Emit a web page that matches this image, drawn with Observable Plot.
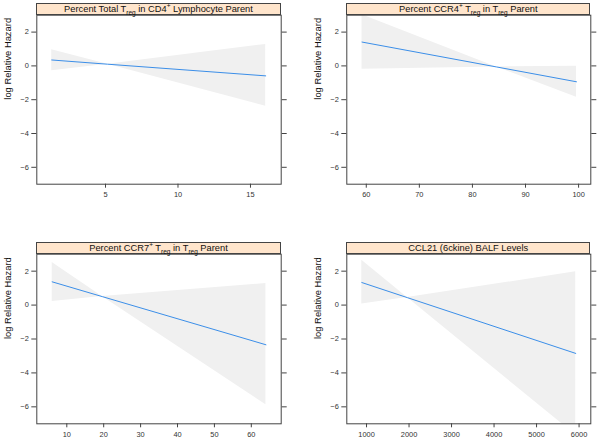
<!DOCTYPE html>
<html><head><meta charset="utf-8">
<script src="https://cdn.jsdelivr.net/npm/d3@7"></script>
<script src="https://cdn.jsdelivr.net/npm/@observablehq/plot@0.6"></script>
<style>
body{margin:0;background:#fff;}
#root{position:relative;width:598px;height:441px;overflow:hidden;font-family:"Liberation Sans",Arial,Helvetica,sans-serif;}
.panel{position:absolute;}
.strip{position:absolute;box-sizing:border-box;background:#ffe5cc;border:1px solid #444;font-size:9.3px;line-height:10px;text-align:center;color:#111;white-space:nowrap;}
.strip sub,.strip sup{font-size:0.7em;line-height:0;}
</style></head><body><div id="root"></div>
<script>
// ---- data ----
const yLabel = "log Relative Hazard";
const yTicks = [-6, -4, -2, 0, 2];

const title1 = 'Percent Total T<sub>reg</sub> in CD4<sup>+</sup> Lymphocyte Parent';
const x1 = [1.29, 5.15, 16.05];
const fit1 = [0.35, 0.10, -0.59];
const lo1 = [-0.28, 0.10, -2.39];
const hi1 = [0.96, 0.10, 1.27];
const xTicks1 = [5, 10, 15];

const title2 = 'Percent CCR4<sup>+</sup> T<sub>reg</sub> in T<sub>reg</sub> Parent';
const x2 = [59.2, 84.5, 99.6];
const fit2 = [1.41, -0.06, -0.94];
const lo2 = [-0.20, -0.06, -1.86];
const hi2 = [3.02, -0.06, -0.02];
const xTicks2 = [60, 70, 80, 90, 100];

const title3 = 'Percent CCR7<sup>+</sup> T<sub>reg</sub> in T<sub>reg</sub> Parent';
const x3 = [6.04, 19.6, 63.96];
const fit3 = [1.37, 0.50, -2.34];
const lo3 = [0.21, 0.50, -5.88];
const hi3 = [2.51, 0.50, 1.27];
const xTicks3 = [10, 20, 30, 40, 50, 60];

const title4 = 'CCL21 (6ckine) BALF Levels';
const x4 = [889, 1959, 5922];
const fit4 = [1.33, 0.44, -2.85];
const lo4 = [0.06, 0.44, -7.66];
const hi4 = [2.65, 0.44, 1.96];
const xTicks4 = [1000, 2000, 3000, 4000, 5000, 6000];

// ---- layout ----
const panels = [
  {title: title1, x: x1, fit: fit1, lo: lo1, hi: hi1, ticks: xTicks1, domain: [0.26, 17.12],
   left: 0, top: 0, w: 299, h: 220, mL: 36.3, mR: 18.3, mT: 14.7, mB: 36.3, sTop: 3},
  {title: title2, x: x2, fit: fit2, lo: lo2, hi: hi2, ticks: xTicks2, domain: [56.33, 102.3],
   left: 299, top: 0, w: 299, h: 220, mL: 47.3, mR: 7.7, mT: 14.7, mB: 36.3, sTop: 3},
  {title: title3, x: x3, fit: fit3, lo: lo3, hi: hi3, ticks: xTicks3, domain: [1.87, 68.1],
   left: 0, top: 220, w: 299, h: 221, mL: 36.3, mR: 18.3, mT: 33.7, mB: 17.7, sTop: 242.2},
  {title: title4, x: x4, fit: fit4, lo: lo4, hi: hi4, ticks: xTicks4, domain: [536, 6276],
   left: 299, top: 220, w: 299, h: 221, mL: 47.3, mR: 7.7, mT: 33.7, mB: 17.7, sTop: 242.2}
];

const fmt = d3.format("d");
const root = document.getElementById("root");
for (const p of panels) {
  const chart = Plot.plot({
    width: p.w, height: p.h,
    marginLeft: p.mL, marginRight: p.mR, marginTop: p.mT, marginBottom: p.mB,
    style: {fontFamily: '"Liberation Sans",Arial,Helvetica,sans-serif', fontSize: "7.4px", color: "#333", background: "transparent", overflow: "visible"},
    x: {domain: p.domain, label: null},
    y: {domain: [-7, 3], label: null},
    marks: [
      Plot.areaY(p.x, {x: p.x, y1: p.lo, y2: p.hi, fill: "#f0f0f0", clip: true}),
      Plot.line(p.x, {x: p.x, y: p.fit, stroke: "#3b8ee8", strokeWidth: 1, clip: true}),
      Plot.frame({stroke: "#444"}),
      Plot.axisX(p.ticks, {tickSize: 4, tickPadding: 4, stroke: "#444", tickFormat: fmt}),
      Plot.axisY(yTicks, {tickSize: 5, tickPadding: 3, stroke: "#444"}),
      Plot.axisY(yTicks, {anchor: "right", tickSize: 5, tickFormat: () => "", stroke: "#444"}),
      Plot.text([yLabel], {frameAnchor: "left", rotate: -90, dx: -29, fontSize: 9.4, fill: "#111"})
    ]
  });
  const wrap = document.createElement("div");
  wrap.className = "panel";
  wrap.style.left = p.left + "px";
  wrap.style.top = p.top + "px";
  wrap.appendChild(chart);
  root.appendChild(wrap);

  const strip = document.createElement("div");
  strip.className = "strip";
  strip.style.left = (p.left + p.mL) + "px";
  strip.style.top = p.sTop + "px";
  strip.style.width = (p.w - p.mL - p.mR) + "px";
  strip.style.height = (p.top + p.mT - p.sTop + 0.5) + "px";
  strip.innerHTML = p.title;
  root.appendChild(strip);
}
</script>
</body></html>
